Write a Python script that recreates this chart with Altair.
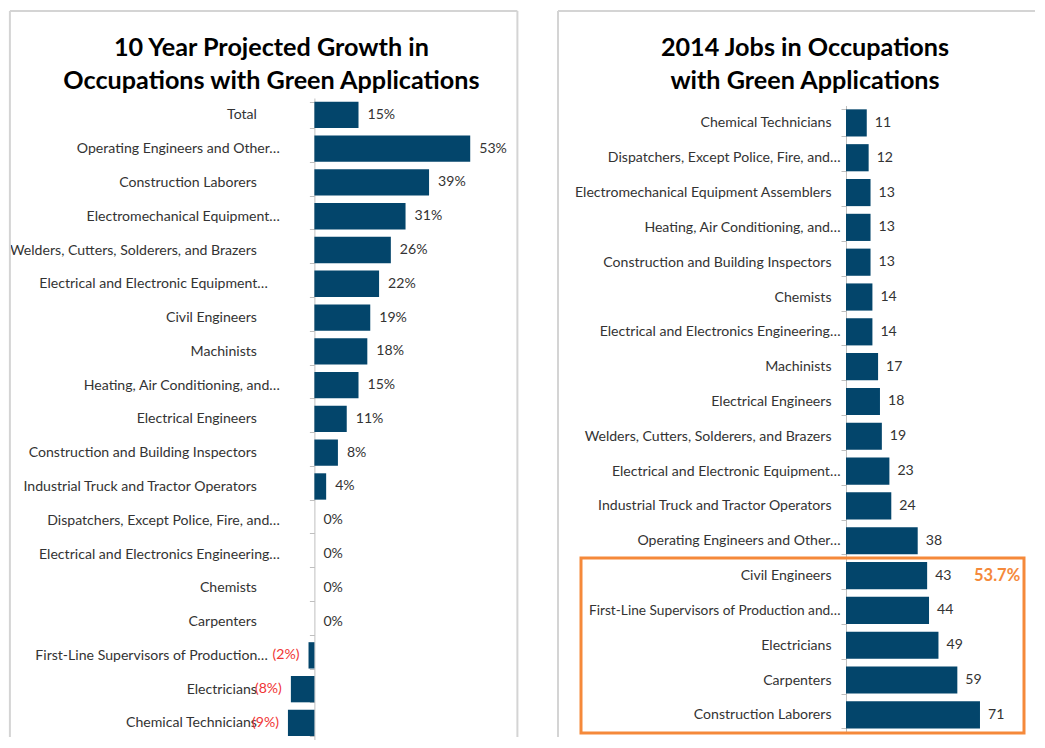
import altair as alt
import pandas as pd

# ---------------- data ----------------
growth_categories = [
    "Total",
    "Operating Engineers and Other…",
    "Construction Laborers",
    "Electromechanical Equipment…",
    "Welders, Cutters, Solderers, and Brazers",
    "Electrical and Electronic Equipment…",
    "Civil Engineers",
    "Machinists",
    "Heating, Air Conditioning, and…",
    "Electrical Engineers",
    "Construction and Building Inspectors",
    "Industrial Truck and Tractor Operators",
    "Dispatchers, Except Police, Fire, and…",
    "Electrical and Electronics Engineering…",
    "Chemists",
    "Carpenters",
    "First-Line Supervisors of Production…",
    "Electricians",
    "Chemical Technicians",
]
growth_values = [15, 53, 39, 31, 26, 22, 19, 18, 15, 11, 8, 4, 0, 0, 0, 0, -2, -8, -9]

jobs_categories = [
    "Chemical Technicians",
    "Dispatchers, Except Police, Fire, and…",
    "Electromechanical Equipment Assemblers",
    "Heating, Air Conditioning, and…",
    "Construction and Building Inspectors",
    "Chemists",
    "Electrical and Electronics Engineering…",
    "Machinists",
    "Electrical Engineers",
    "Welders, Cutters, Solderers, and Brazers",
    "Electrical and Electronic Equipment…",
    "Industrial Truck and Tractor Operators",
    "Operating Engineers and Other…",
    "Civil Engineers",
    "First-Line Supervisors of Production and…",
    "Electricians",
    "Carpenters",
    "Construction Laborers",
]
jobs_values = [11, 12, 13, 13, 13, 14, 14, 17, 18, 19, 23, 24, 38, 43, 44, 49, 59, 71]

highlight_category = ["Civil Engineers"]
highlight_text = ["53.7%"]

left_title = "10 Year Projected Growth in\nOccupations with Green Applications"
right_title = "2014 Jobs in Occupations\nwith Green Applications"

# ---------------- style ----------------
FONT = "Lato"
BAR = "#03456B"
TEXT = "#333333"
RED = "#F03535"
ORANGE = "#F5893A"
BORDER = "#D4D4D4"
AXIS = "#BFBFBF"
LABEL_SIZE = 14.1
TITLE_SIZE = 25.2
TRUNC_TEST = "indexof(datum.label, '…') >= 0"
SHORT_TRUNC_TEST = ("datum.label == 'First-Line Supervisors of Production…' || "
                    "datum.label == 'Electrical and Electronic Equipment…'")

one = pd.DataFrame({"p": [0]})
PY = 97.1  # common top of both plot areas (page px)


def frame_rules(x_left, x_right, y_top, y_bottom, right_side=True):
    layers = [
        alt.Chart(one).mark_rule(color=BORDER, strokeWidth=2).encode(
            x=alt.value(x_left), y=alt.value(y_top), y2=alt.value(y_bottom)),
        alt.Chart(one).mark_rule(color=BORDER, strokeWidth=2).encode(
            x=alt.value(x_left), x2=alt.value(x_right), y=alt.value(y_top)),
    ]
    if right_side:
        layers.append(alt.Chart(one).mark_rule(color=BORDER, strokeWidth=2).encode(
            x=alt.value(x_right), y=alt.value(y_top), y2=alt.value(y_bottom)))
    return layers


def title_mark(text, x, y):
    return alt.Chart(one).mark_text(
        align="center", baseline="alphabetic", lineBreak="\n", lineHeight=33,
        font=FONT, fontSize=TITLE_SIZE, fontWeight="bold", color="#000000",
    ).encode(x=alt.value(x), y=alt.value(y), text=alt.value(text))


# ---------------- left panel (plot origin at page 284.6, PY) ----------------
LX0 = 284.6
gdf = pd.DataFrame({"cat": growth_categories, "val": growth_values})
gdf["label"] = [f"{v}%" if v >= 0 else f"({-v}%)" for v in growth_values]

L_STEP = 33.78
L_H = L_STEP * len(growth_categories)
L_PX = 2.94
L_DOM = [-10, 56]
L_W = (L_DOM[1] - L_DOM[0]) * L_PX
L_ZERO = -L_DOM[0] * L_PX

ly = alt.Y(
    "cat:N", sort=growth_categories,
    scale=alt.Scale(paddingInner=0.22, paddingOuter=0.11),
    axis=alt.Axis(title=None, orient="left", offset=-L_ZERO, domainColor=AXIS,
                  tickColor=AXIS, tickSize=5, tickBand="extent",
                  labelPadding={"condition": [
                      {"test": SHORT_TRUNC_TEST, "value": 42},
                      {"test": TRUNC_TEST, "value": 30},
                  ], "value": 53},
                  labelFont=FONT, labelFontSize=LABEL_SIZE, labelColor=TEXT,
                  labelLimit=400, grid=False),
)
lx = alt.X("val:Q", scale=alt.Scale(domain=L_DOM, nice=False, zero=False), axis=None)

lbase = alt.Chart(gdf).encode(x=lx, y=ly)
l_bars = lbase.mark_bar(color=BAR)
l_pos = lbase.transform_filter("datum.val >= 0").mark_text(
    align="left", dx=9, font=FONT, fontSize=LABEL_SIZE, color=TEXT).encode(text="label:N")
l_neg = lbase.transform_filter("datum.val < 0").mark_text(
    align="right", dx=-9, font=FONT, fontSize=LABEL_SIZE, color=RED).encode(text="label:N")

left = alt.layer(
    *frame_rules(9.5 - LX0, 517 - LX0, 10 - PY, 736 - PY),
    title_mark(left_title, 271 - LX0, 55 - PY),
    l_bars, l_pos, l_neg,
).properties(width=L_W, height=L_H)

# ---------------- right panel (plot origin at page 845, PY) ----------------
RX0 = 845.0
R_TOP = 104.6 - PY
jdf = pd.DataFrame({"cat": jobs_categories, "val": jobs_values})
jdf["label"] = [str(v) for v in jobs_values]

R_STEP = 34.82
R_H = R_STEP * len(jobs_categories)
R_PX = 1.887
R_DOM = [0, 76]
R_W = (R_DOM[1] - R_DOM[0]) * R_PX

ry = alt.Y(
    "cat:N", sort=jobs_categories,
    scale=alt.Scale(paddingInner=0.22, paddingOuter=0.11, range=[R_TOP, R_TOP + R_H]),
    axis=alt.Axis(title=None, orient="left", domainColor=AXIS, tickColor=AXIS,
                  tickSize=5, tickBand="extent",
                  labelPadding={"condition": {"test": TRUNC_TEST, "value": 1}, "value": 10},
                  labelFontSize={"condition": {"test": "indexof(datum.label, 'First-Line') == 0",
                                               "value": 13.7}, "value": LABEL_SIZE},
                  labelFont=FONT, labelColor=TEXT, labelLimit=400, grid=False),
)
rx = alt.X("val:Q", scale=alt.Scale(domain=R_DOM, nice=False), axis=None)

rbase = alt.Chart(jdf).encode(x=rx, y=ry)
r_bars = rbase.mark_bar(color=BAR)
r_text = rbase.mark_text(align="left", dx=8, font=FONT, fontSize=LABEL_SIZE,
                         color=TEXT).encode(text="label:N")

r_box = alt.Chart(one).mark_rect(fillOpacity=0, stroke=ORANGE, strokeWidth=3).encode(
    x=alt.value(580 - RX0), x2=alt.value(1023 - RX0),
    y=alt.value(557 - PY), y2=alt.value(732 - PY),
)
hdf = pd.DataFrame({"cat": highlight_category, "label": highlight_text})
r_hl = alt.Chart(hdf).mark_text(align="left", font=FONT, fontSize=16.5, fontWeight="bold",
                                color=ORANGE).encode(
    y=alt.Y("cat:N", sort=jobs_categories), x=alt.value(973 - RX0), text="label:N")

right = alt.layer(
    *frame_rules(557 - RX0, 1034 - RX0, 10 - PY, 736 - PY, right_side=False),
    title_mark(right_title, 804 - RX0, 55 - PY),
    r_box, r_bars, r_text, r_hl,
).properties(width=R_W, height=R_TOP + R_H)

chart = alt.hconcat(left, right, spacing=38).configure_view(stroke=None).properties(
    padding={"left": 0, "top": 1, "right": 0, "bottom": 0}
)

chart.save("out.html", embed_options={"renderer": "svg", "actions": False})
